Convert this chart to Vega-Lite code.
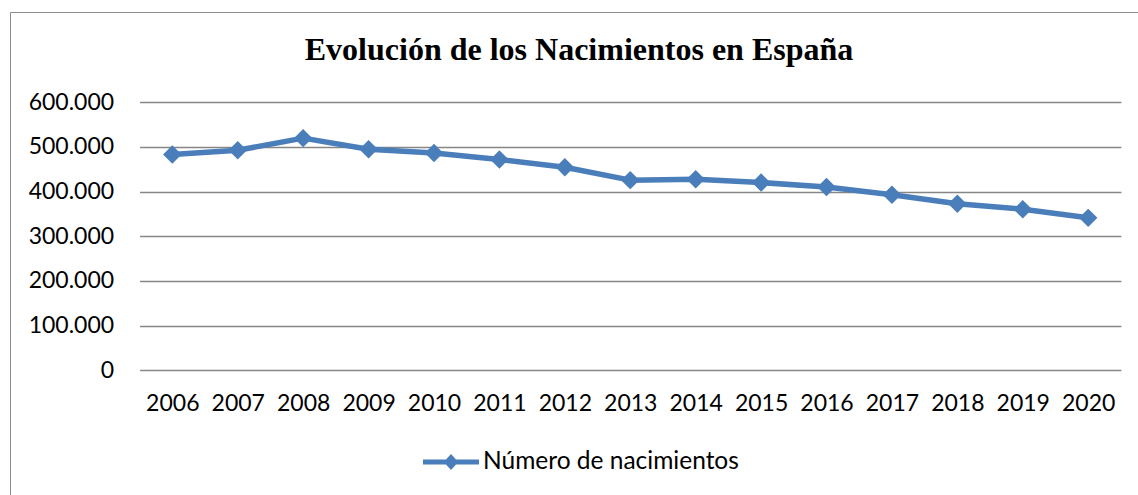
{
  "$schema": "https://vega.github.io/schema/vega-lite/v6.json",
  "width": 1128,
  "height": 490,
  "autosize": {"type": "none"},
  "padding": {"left": 10, "top": 12, "right": 0, "bottom": -7},
  "background": "white",
  "title": {
    "text": "Evolución de los Nacimientos en España",
    "font": "Liberation Serif",
    "fontSize": 32,
    "fontWeight": "bold",
    "color": "#000000",
    "anchor": "middle",
    "frame": "group",
    "baseline": "alphabetic",
    "offset": 0,
    "dy": 80,
    "dx": 5
  },
  "data": {
    "values": [
      {"year": 2006, "nacimientos": 482957},
      {"year": 2007, "nacimientos": 492527},
      {"year": 2008, "nacimientos": 519779},
      {"year": 2009, "nacimientos": 494997},
      {"year": 2010, "nacimientos": 486575},
      {"year": 2011, "nacimientos": 471999},
      {"year": 2012, "nacimientos": 454648},
      {"year": 2013, "nacimientos": 425715},
      {"year": 2014, "nacimientos": 427595},
      {"year": 2015, "nacimientos": 420290},
      {"year": 2016, "nacimientos": 410583},
      {"year": 2017, "nacimientos": 393181},
      {"year": 2018, "nacimientos": 372777},
      {"year": 2019, "nacimientos": 360617},
      {"year": 2020, "nacimientos": 341315}
    ]
  },
  "encoding": {
    "x": {
      "field": "year",
      "type": "quantitative",
      "scale": {"domain": [2005.5, 2020.5], "range": [129.6, 1110.9], "nice": false, "zero": false},
      "axis": {
        "title": null,
        "orient": "bottom",
        "offset": -131.7,
        "values": [2006, 2007, 2008, 2009, 2010, 2011, 2012, 2013, 2014, 2015, 2016, 2017, 2018, 2019, 2020],
        "format": "d",
        "grid": false,
        "domain": false,
        "ticks": false,
        "labelPadding": 22,
        "labelFont": "Lato",
        "labelFontSize": 23,
        "labelColor": "#000000",
        "labelFlush": false,
        "labelOverlap": false
      }
    },
    "y": {
      "field": "nacimientos",
      "type": "quantitative",
      "scale": {"domain": [0, 600000], "range": [358.3, 90.3], "nice": false, "zero": true},
      "axis": {
        "title": null,
        "orient": "left",
        "offset": -129.6,
        "values": [0, 100000, 200000, 300000, 400000, 500000, 600000],
        "format": ",d",
        "grid": true,
        "gridColor": "#868686",
        "gridWidth": 1.5,
        "domain": false,
        "ticks": false,
        "labelPadding": 26,
        "labelFont": "Lato",
        "labelFontSize": 23,
        "labelColor": "#000000",
        "labelFlush": false,
        "labelOverlap": false
      }
    },
    "color": {
      "datum": "Número de nacimientos",
      "type": "nominal",
      "scale": {"range": ["#4a7ebb"]},
      "legend": {
        "title": null,
        "orient": "none",
        "legendX": 413,
        "legendY": 422,
        "symbolType": "M-1,-0.09H1V0.09H-1Z M0,-0.29L0.26,0L0,0.29L-0.26,0Z",
        "symbolSize": 3136,
        "symbolFillColor": "#4a7ebb",
        "symbolStrokeColor": "#4a7ebb",
        "symbolStrokeWidth": 0,
        "symbolOpacity": 1,
        "labelFont": "Lato",
        "labelFontSize": 24.5,
        "labelColor": "#000000",
        "labelOffset": 4,
        "labelLimit": 600,
        "padding": 0
      }
    }
  },
  "layer": [
    {"mark": {"type": "line", "strokeWidth": 5.5, "strokeJoin": "round"}},
    {"mark": {"type": "point", "shape": "diamond", "filled": true, "size": 340, "opacity": 1, "strokeWidth": 0}}
  ],
  "config": {
    "view": {"stroke": "#8c8c8c", "strokeWidth": 1},
    "locale": {"number": {"decimal": ",", "thousands": ".", "grouping": [3], "currency": ["", " €"]}}
  }
}
